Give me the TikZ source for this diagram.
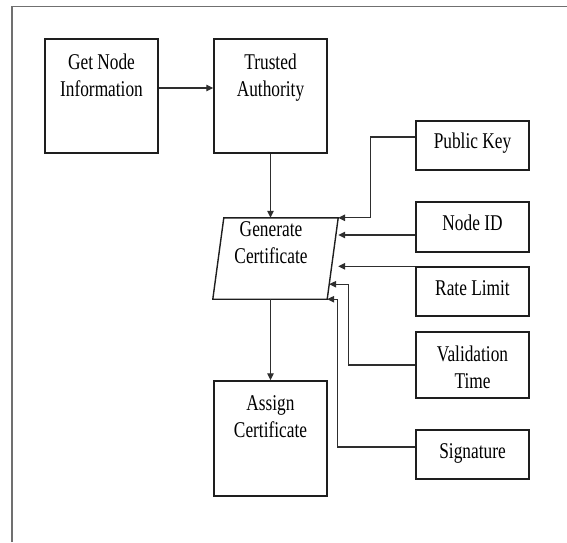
\documentclass[tikz,border=0pt]{standalone}
\usepackage{fontspec}
\setmainfont{Liberation Serif}[FakeStretch=0.77]
\usetikzlibrary{arrows.meta,calc}

\definecolor{boxc}{HTML}{1E1E1E}
\definecolor{linec}{HTML}{2E2E2E}
\definecolor{framec}{HTML}{707070}

% two centred lines whose baseline is that of the first line
\newcommand\twoline[1]{\begin{tabular}[t]{@{}c@{}}#1\end{tabular}}

\begin{document}
\begin{tikzpicture}[x=1pt, y=-1pt,
  font=\fontsize{22.5}{27}\selectfont,
  box/.style={draw=boxc, line width=1.4pt, inner sep=0pt, minimum width=113pt},
  bigbox/.style={box, minimum height=114pt, text height=30pt, text depth=84pt},
  smallbox/.style={box, minimum height=49pt, text height=28pt, text depth=21pt},
  link/.style={draw=linec, line width=1.2pt, -{Triangle[length=7pt,width=6.5pt]}},
]
\useasboundingbox (0,0) rectangle (567,542);

% page frame (top and left edges)
\draw[framec, line width=1.8pt] (12,542) -- (12,6.5) -- (567,6.5);

% main column
\node[bigbox] (gn) at (101.5,96) {\twoline{Get Node\\Information}};
\node[bigbox] (ta) at (270.5,96) {\twoline{Trusted\\Authority}};
\node[inner sep=0pt, minimum width=114pt, text height=18.7pt, text depth=62.3pt]
  (gen) at (271,258.5) {\twoline{Generate\\Certificate}};
\draw[boxc, line width=1.4pt]
  ($(gen.north west)+(10,0)$) coordinate (gTL) --
  ($(gen.north east)+(10,0)$) coordinate (gTR) --
  ($(gen.south east)+(-1,0)$) coordinate (gBR) --
  ($(gen.south west)+(-1,0)$) coordinate (gBL) -- cycle;
\node[bigbox, minimum height=115pt, text height=29.5pt, text depth=85.5pt]
  (as) at (270.5,438.5) {\twoline{Assign\\Certificate}};

% certificate fields
\node[smallbox, text height=27pt, text depth=22pt] (pk) at (472.5,145.5) {Public Key};
\node[smallbox, minimum height=50pt, text depth=22pt] (nid) at (472.5,227) {Node ID};
\node[smallbox, text height=28.7pt, text depth=20.3pt] (rl) at (472.5,291.5) {Rate Limit};
\node[box, minimum height=66pt, text height=29.7pt, text depth=36.3pt]
  (vt) at (472.5,365) {\twoline{Validation\\Time}};
\node[smallbox] (sig) at (472.5,454.5) {Signature};

% flow
\draw[link] ([yshift=8pt]gn.east) -- ([yshift=8pt]ta.west);
\draw[link] (ta.south) -- (ta.south |- gTL);
\draw[link] (as.north |- gBL) -- (as.north);

% fields into the certificate
\coordinate (nidL) at ([yshift=-8pt]nid.west);
\coordinate (vtTip) at ($(gBR)+(2,-15)$);
\draw[link] ([yshift=8.5pt]pk.west) -- ++(-45,0) |- (gTR);
\draw[link] (nidL) -- (gTR |- nidL);
\draw[link] (rl.north west) -- (gTR |- rl.north west);
\draw[link] (vt.west) -- ++(-67,0) |- (vtTip);
\draw[link] ([yshift=7.5pt]sig.west) -- ++(-78,0) |- (gBR);
\end{tikzpicture}
\end{document}
